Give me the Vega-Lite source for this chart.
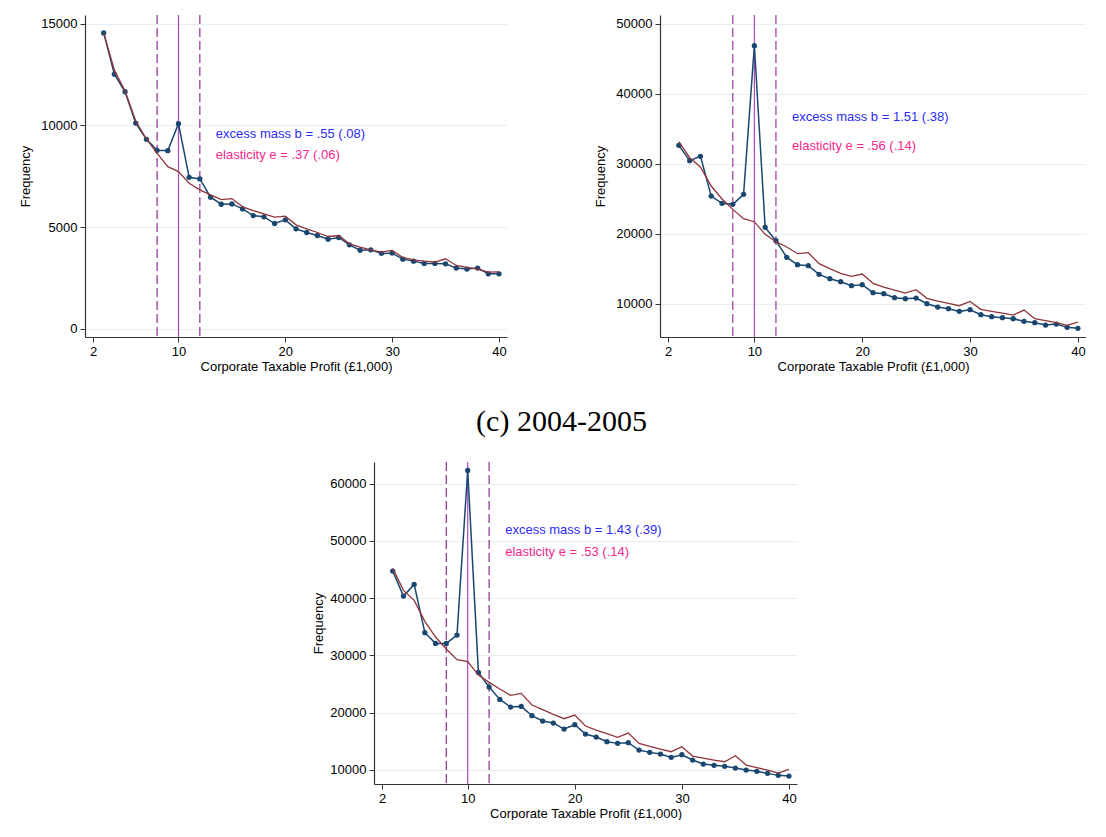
{
  "$schema": "https://vega.github.io/schema/vega-lite/v6.json",
  "padding": {"left": 19, "top": 14, "right": 0, "bottom": 0},
  "background": "white",
  "datasets": {
    "p1": [
      {"x": 3, "obs": 14542, "fit": 14542}, {"x": 4, "obs": 12516, "fit": 12712}, {"x": 5, "obs": 11650, "fit": 11683},
      {"x": 6, "obs": 10114, "fit": 10212}, {"x": 7, "obs": 9314, "fit": 9330}, {"x": 8, "obs": 8775, "fit": 8627},
      {"x": 9, "obs": 8758, "fit": 7974}, {"x": 10, "obs": 10082, "fit": 7729}, {"x": 11, "obs": 7451, "fit": 7157},
      {"x": 12, "obs": 7369, "fit": 6830}, {"x": 13, "obs": 6471, "fit": 6585}, {"x": 14, "obs": 6127, "fit": 6356},
      {"x": 15, "obs": 6144, "fit": 6405}, {"x": 16, "obs": 5899, "fit": 5997}, {"x": 17, "obs": 5572, "fit": 5817},
      {"x": 18, "obs": 5507, "fit": 5654}, {"x": 19, "obs": 5180, "fit": 5490}, {"x": 20, "obs": 5359, "fit": 5539},
      {"x": 21, "obs": 4918, "fit": 5114}, {"x": 22, "obs": 4739, "fit": 4918}, {"x": 23, "obs": 4592, "fit": 4739},
      {"x": 24, "obs": 4412, "fit": 4542}, {"x": 25, "obs": 4493, "fit": 4592}, {"x": 26, "obs": 4134, "fit": 4183},
      {"x": 27, "obs": 3873, "fit": 4020}, {"x": 28, "obs": 3889, "fit": 3889}, {"x": 29, "obs": 3709, "fit": 3775},
      {"x": 30, "obs": 3725, "fit": 3856}, {"x": 31, "obs": 3431, "fit": 3513}, {"x": 32, "obs": 3333, "fit": 3399},
      {"x": 33, "obs": 3219, "fit": 3333}, {"x": 34, "obs": 3219, "fit": 3284}, {"x": 35, "obs": 3203, "fit": 3448},
      {"x": 36, "obs": 2990, "fit": 3121}, {"x": 37, "obs": 2941, "fit": 3023}, {"x": 38, "obs": 2990, "fit": 2941},
      {"x": 39, "obs": 2712, "fit": 2794}, {"x": 40, "obs": 2712, "fit": 2810}
    ],
    "p2": [
      {"x": 3, "obs": 32619, "fit": 33143}, {"x": 4, "obs": 30429, "fit": 30857}, {"x": 5, "obs": 31048, "fit": 29524},
      {"x": 6, "obs": 25381, "fit": 26810}, {"x": 7, "obs": 24333, "fit": 24952}, {"x": 8, "obs": 24190, "fit": 23476},
      {"x": 9, "obs": 25619, "fit": 22143}, {"x": 10, "obs": 46857, "fit": 21714}, {"x": 11, "obs": 20905, "fit": 19905},
      {"x": 12, "obs": 19000, "fit": 18857}, {"x": 13, "obs": 16619, "fit": 18095}, {"x": 14, "obs": 15571, "fit": 17143},
      {"x": 15, "obs": 15429, "fit": 17286}, {"x": 16, "obs": 14190, "fit": 15714}, {"x": 17, "obs": 13571, "fit": 15000},
      {"x": 18, "obs": 13143, "fit": 14333}, {"x": 19, "obs": 12571, "fit": 13905}, {"x": 20, "obs": 12714, "fit": 14238},
      {"x": 21, "obs": 11571, "fit": 12905}, {"x": 22, "obs": 11429, "fit": 12381}, {"x": 23, "obs": 10857, "fit": 11952},
      {"x": 24, "obs": 10714, "fit": 11524}, {"x": 25, "obs": 10810, "fit": 12000}, {"x": 26, "obs": 10000, "fit": 10762},
      {"x": 27, "obs": 9524, "fit": 10381}, {"x": 28, "obs": 9286, "fit": 10048}, {"x": 29, "obs": 8905, "fit": 9714},
      {"x": 30, "obs": 9143, "fit": 10333}, {"x": 31, "obs": 8429, "fit": 9190}, {"x": 32, "obs": 8143, "fit": 8905},
      {"x": 33, "obs": 8000, "fit": 8667}, {"x": 34, "obs": 7857, "fit": 8381}, {"x": 35, "obs": 7476, "fit": 9095},
      {"x": 36, "obs": 7286, "fit": 7857}, {"x": 37, "obs": 6952, "fit": 7571}, {"x": 38, "obs": 7095, "fit": 7286},
      {"x": 39, "obs": 6619, "fit": 6905}, {"x": 40, "obs": 6476, "fit": 7381}
    ],
    "p3": [
      {"x": 3, "obs": 44732, "fit": 45198}, {"x": 4, "obs": 40362, "fit": 41352}, {"x": 5, "obs": 42401, "fit": 39604},
      {"x": 6, "obs": 33951, "fit": 35932}, {"x": 7, "obs": 32086, "fit": 33193}, {"x": 8, "obs": 32086, "fit": 31096},
      {"x": 9, "obs": 33543, "fit": 29231}, {"x": 10, "obs": 62331, "fit": 28881}, {"x": 11, "obs": 27016, "fit": 26550},
      {"x": 12, "obs": 24452, "fit": 25268}, {"x": 13, "obs": 22296, "fit": 24103}, {"x": 14, "obs": 20956, "fit": 22995},
      {"x": 15, "obs": 21072, "fit": 23345}, {"x": 16, "obs": 19441, "fit": 21305}, {"x": 17, "obs": 18508, "fit": 20490},
      {"x": 18, "obs": 18159, "fit": 19674}, {"x": 19, "obs": 17110, "fit": 18916}, {"x": 20, "obs": 17867, "fit": 19557},
      {"x": 21, "obs": 16235, "fit": 17634}, {"x": 22, "obs": 15711, "fit": 16935}, {"x": 23, "obs": 14895, "fit": 16294},
      {"x": 24, "obs": 14604, "fit": 15653}, {"x": 25, "obs": 14720, "fit": 16410}, {"x": 26, "obs": 13438, "fit": 14604},
      {"x": 27, "obs": 13030, "fit": 14079}, {"x": 28, "obs": 12739, "fit": 13613}, {"x": 29, "obs": 12156, "fit": 13147},
      {"x": 30, "obs": 12622, "fit": 14021}, {"x": 31, "obs": 11690, "fit": 12389}, {"x": 32, "obs": 10991, "fit": 12040},
      {"x": 33, "obs": 10758, "fit": 11690}, {"x": 34, "obs": 10583, "fit": 11399}, {"x": 35, "obs": 10291, "fit": 12448},
      {"x": 36, "obs": 9942, "fit": 10816}, {"x": 37, "obs": 9709, "fit": 10350}, {"x": 38, "obs": 9359, "fit": 9942},
      {"x": 39, "obs": 9009, "fit": 9417}, {"x": 40, "obs": 8893, "fit": 10058}
    ]
  },
  "vconcat": [
    {
      "hconcat": [
        {
          "width": 422, "height": 322,
          "layer": [
            {"data": {"values": [{"cut": 8}, {"cut": 12}]},
             "mark": {"type": "rule", "color": "#8e2d92", "strokeWidth": 1.2, "strokeDash": [9, 4]},
             "encoding": {"x": {"field": "cut", "type": "quantitative", "scale": {"domain": [1.25, 40.75], "nice": false, "zero": false}, "title": "Corporate Taxable Profit (£1,000)"}}},
            {"data": {"values": [{"cut": 10}]},
             "mark": {"type": "rule", "color": "#b048c0", "strokeWidth": 1.2},
             "encoding": {"x": {"field": "cut", "type": "quantitative", "scale": {"domain": [1.25, 40.75], "nice": false, "zero": false}, "title": "Corporate Taxable Profit (£1,000)"}}},
            {"data": {"name": "p1"},
             "mark": {"type": "line", "color": "#1a476f", "strokeWidth": 1.5, "point": {"filled": true, "size": 28, "color": "#1a476f"}},
             "encoding": {
               "x": {"field": "x", "type": "quantitative", "scale": {"domain": [1.25, 40.75], "nice": false, "zero": false}, "title": "Corporate Taxable Profit (£1,000)", "axis": {"values": [2, 10, 20, 30, 40], "format": "d"}},
               "y": {"field": "obs", "type": "quantitative", "scale": {"domain": [-393, 15420], "nice": false, "zero": false}, "title": "Frequency", "axis": {"values": [0, 5000, 10000, 15000], "format": "d"}}}},
            {"data": {"name": "p1"},
             "mark": {"type": "line", "color": "#90353b", "strokeWidth": 1.3},
             "encoding": {
               "x": {"field": "x", "type": "quantitative", "scale": {"domain": [1.25, 40.75], "nice": false, "zero": false}, "title": "Corporate Taxable Profit (£1,000)"},
               "y": {"field": "fit", "type": "quantitative", "scale": {"domain": [-393, 15420], "nice": false, "zero": false}, "title": "Frequency"}}},
            {"data": {"values": [{"px": 13.5, "py": 9558, "label": "excess mass b = .55 (.08)"}]},
             "mark": {"type": "text", "align": "left", "baseline": "middle", "color": "#2b2bf5", "fontSize": 13},
             "encoding": {"x": {"field": "px", "type": "quantitative"}, "y": {"field": "py", "type": "quantitative"}, "text": {"field": "label"}}},
            {"data": {"values": [{"px": 13.5, "py": 8525, "label": "elasticity e = .37 (.06)"}]},
             "mark": {"type": "text", "align": "left", "baseline": "middle", "color": "#f5288c", "fontSize": 13},
             "encoding": {"x": {"field": "px", "type": "quantitative"}, "y": {"field": "py", "type": "quantitative"}, "text": {"field": "label"}}}
          ]
        },
        {
          "width": 426, "height": 322,
          "layer": [
            {"data": {"values": [{"cut": 8}, {"cut": 12}]},
             "mark": {"type": "rule", "color": "#9a3aa0", "strokeWidth": 1.2, "strokeDash": [9, 4]},
             "encoding": {"x": {"field": "cut", "type": "quantitative", "scale": {"domain": [1.25, 40.75], "nice": false, "zero": false}, "title": "Corporate Taxable Profit (£1,000)"}}},
            {"data": {"values": [{"cut": 10}]},
             "mark": {"type": "rule", "color": "#b048c0", "strokeWidth": 1.2},
             "encoding": {"x": {"field": "cut", "type": "quantitative", "scale": {"domain": [1.25, 40.75], "nice": false, "zero": false}, "title": "Corporate Taxable Profit (£1,000)"}}},
            {"data": {"name": "p2"},
             "mark": {"type": "line", "color": "#1a476f", "strokeWidth": 1.5, "point": {"filled": true, "size": 28, "color": "#1a476f"}},
             "encoding": {
               "x": {"field": "x", "type": "quantitative", "scale": {"domain": [1.25, 40.75], "nice": false, "zero": false}, "title": "Corporate Taxable Profit (£1,000)", "axis": {"values": [2, 10, 20, 30, 40], "format": "d"}},
               "y": {"field": "obs", "type": "quantitative", "scale": {"domain": [5243, 51243], "nice": false, "zero": false}, "title": "Frequency", "axis": {"values": [10000, 20000, 30000, 40000, 50000], "format": "d"}}}},
            {"data": {"name": "p2"},
             "mark": {"type": "line", "color": "#90353b", "strokeWidth": 1.3},
             "encoding": {
               "x": {"field": "x", "type": "quantitative", "scale": {"domain": [1.25, 40.75], "nice": false, "zero": false}, "title": "Corporate Taxable Profit (£1,000)"},
               "y": {"field": "fit", "type": "quantitative", "scale": {"domain": [5243, 51243], "nice": false, "zero": false}, "title": "Frequency"}}},
            {"data": {"values": [{"px": 13.5, "py": 36714, "label": "excess mass b = 1.51 (.38)"}]},
             "mark": {"type": "text", "align": "left", "baseline": "middle", "color": "#2b2bf5", "fontSize": 13},
             "encoding": {"x": {"field": "px", "type": "quantitative"}, "y": {"field": "py", "type": "quantitative"}, "text": {"field": "label"}}},
            {"data": {"values": [{"px": 13.5, "py": 32529, "label": "elasticity e = .56 (.14)"}]},
             "mark": {"type": "text", "align": "left", "baseline": "middle", "color": "#f5288c", "fontSize": 13},
             "encoding": {"x": {"field": "px", "type": "quantitative"}, "y": {"field": "py", "type": "quantitative"}, "text": {"field": "label"}}}
          ]
        }
      ],
      "spacing": 87
    },
    {
      "width": 423, "height": 322,
      "title": {"text": "(c) 2004-2005", "font": "Liberation Serif", "fontSize": 30, "fontWeight": "normal", "color": "#000000", "anchor": "middle", "frame": "group", "dx": -24, "baseline": "alphabetic", "offset": 0},
      "layer": [
        {"data": {"values": [{"cut": 8}, {"cut": 12}]},
         "mark": {"type": "rule", "color": "#8e2d92", "strokeWidth": 1.2, "strokeDash": [9, 4]},
         "encoding": {"x": {"field": "cut", "type": "quantitative", "scale": {"domain": [1.25, 40.75], "nice": false, "zero": false}, "title": "Corporate Taxable Profit (£1,000)"}}},
        {"data": {"values": [{"cut": 10}]},
         "mark": {"type": "rule", "color": "#b048c0", "strokeWidth": 1.2},
         "encoding": {"x": {"field": "cut", "type": "quantitative", "scale": {"domain": [1.25, 40.75], "nice": false, "zero": false}, "title": "Corporate Taxable Profit (£1,000)"}}},
        {"data": {"name": "p3"},
         "mark": {"type": "line", "color": "#1a476f", "strokeWidth": 1.5, "point": {"filled": true, "size": 28, "color": "#1a476f"}},
         "encoding": {
           "x": {"field": "x", "type": "quantitative", "scale": {"domain": [1.25, 40.75], "nice": false, "zero": false}, "title": "Corporate Taxable Profit (£1,000)", "axis": {"values": [2, 10, 20, 30, 40], "format": "d"}},
           "y": {"field": "obs", "type": "quantitative", "scale": {"domain": [7500, 63800], "nice": false, "zero": false}, "title": "Frequency", "axis": {"values": [10000, 20000, 30000, 40000, 50000, 60000], "format": "d", "titlePadding": 4}}}},
        {"data": {"name": "p3"},
         "mark": {"type": "line", "color": "#90353b", "strokeWidth": 1.3},
         "encoding": {
           "x": {"field": "x", "type": "quantitative", "scale": {"domain": [1.25, 40.75], "nice": false, "zero": false}, "title": "Corporate Taxable Profit (£1,000)"},
           "y": {"field": "fit", "type": "quantitative", "scale": {"domain": [7500, 63800], "nice": false, "zero": false}, "title": "Frequency"}}},
        {"data": {"values": [{"px": 13.5, "py": 51958, "label": "excess mass b = 1.43 (.39)"}]},
         "mark": {"type": "text", "align": "left", "baseline": "middle", "color": "#2b2bf5", "fontSize": 13},
         "encoding": {"x": {"field": "px", "type": "quantitative"}, "y": {"field": "py", "type": "quantitative"}, "text": {"field": "label"}}},
        {"data": {"values": [{"px": 13.5, "py": 47990, "label": "elasticity e = .53 (.14)"}]},
         "mark": {"type": "text", "align": "left", "baseline": "middle", "color": "#f5288c", "fontSize": 13},
         "encoding": {"x": {"field": "px", "type": "quantitative"}, "y": {"field": "py", "type": "quantitative"}, "text": {"field": "label"}}}
      ]
    }
  ],
  "spacing": 34,
  "center": true,
  "config": {
    "view": {"stroke": null},
    "font": "Liberation Sans",
    "text": {"font": "Liberation Sans"},
    "axis": {
      "labelFont": "Liberation Sans", "titleFont": "Liberation Sans",
      "labelFontSize": 13, "titleFontSize": 13, "titleFontWeight": "normal",
      "labelColor": "#000000", "titleColor": "#000000",
      "domainColor": "#333333", "tickColor": "#333333", "tickSize": 5, "domainWidth": 1.2,
      "labelFlush": false, "labelOverlap": false
    },
    "axisX": {"grid": false, "labelPadding": 3, "titlePadding": 2},
    "axisY": {"grid": true, "gridColor": "#e6eef1", "gridWidth": 1, "labelPadding": 3, "titlePadding": 8}
  }
}
